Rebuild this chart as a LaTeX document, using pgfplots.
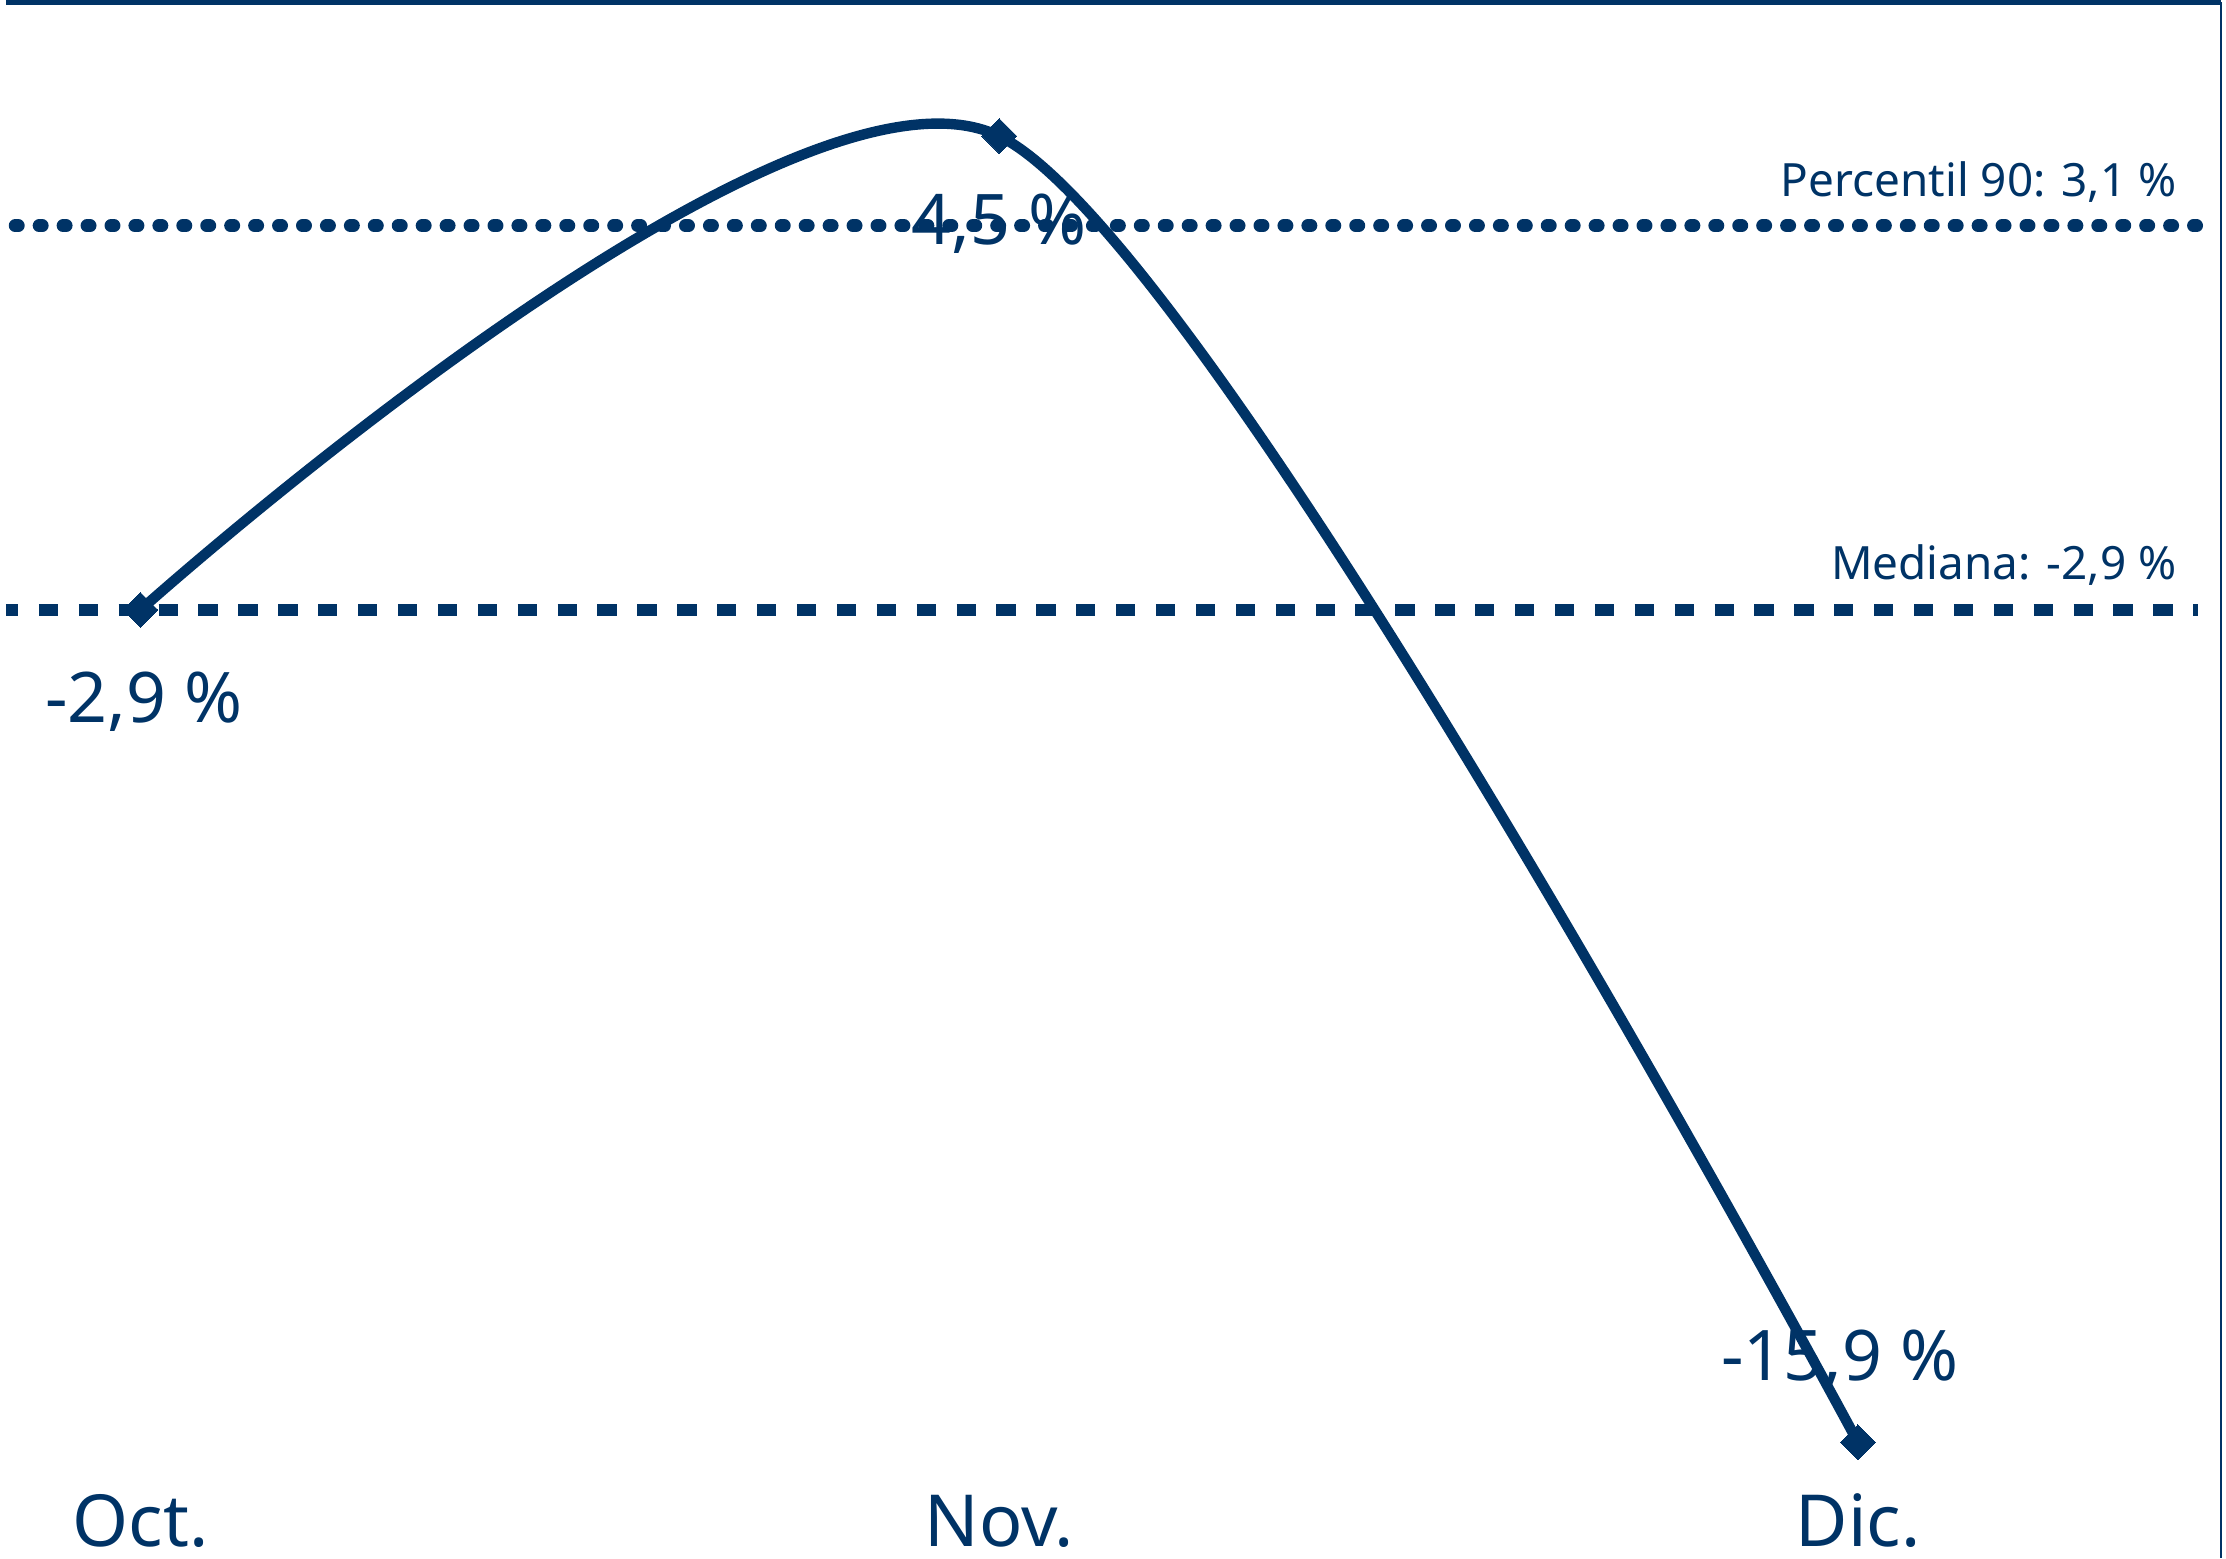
\documentclass[border=0pt]{standalone}
\usepackage{fontspec}
\setmainfont{Noto Sans}
\usepackage{pgfplots}
\pgfplotsset{compat=1.18}
\usepackage{pgfplotstable}
\definecolor{navy}{RGB}{0,51,102}

% monthly change, label text and label offsets (pt)
\pgfplotstableread{
x y lab dx dy
0 -2.9 -2,9 0.8 -28.3
1 4.5 4,5 0 -27.1
2 -15.9 -15,9 -4.5 15.5
}\ventas

\begin{document}
\begin{tikzpicture}
\begin{axis}[
  x=215.25pt, y=16.05pt,
  xmin=-0.1568, xmax=2.4228,
  ymin=-16.423, ymax=6.587,
  axis line style={draw=none},
  ytick=\empty,
  xtick={0,1,2},
  xticklabels={Oct.,Nov.,Dic.},
  major tick length=0pt,
  xticklabel style={font=\fontsize{18}{20}\selectfont, text=navy, anchor=base, inner sep=0pt, yshift=-17.75pt},
  clip=false,
]
% reference levels
\addplot[navy, line width=3.2pt, line cap=round, dash pattern=on 0.8pt off 5.2pt]
  coordinates {(-0.1459,3.1) (2.3949,3.1)};
\addplot[navy, line width=2.9pt, dash pattern=on 4.83pt off 5.17pt, dash phase=1.7pt]
  coordinates {(-0.1568,-2.9) (2.396,-2.9)};
\node[anchor=base east, inner sep=0pt, font=\fontsize{11.5}{13}\selectfont, text=navy]
  at (axis cs:2.3717,3.1) [yshift=7.3pt] {Percentil 90: 3,1 \%};
\node[anchor=base east, inner sep=0pt, font=\fontsize{11.5}{13}\selectfont, text=navy]
  at (axis cs:2.3717,-2.9) [yshift=7.6pt] {Mediana: -2,9 \%};
% value labels
\addplot[draw=none, mark=none,
  point meta=explicit symbolic,
  visualization depends on={\thisrow{dy} \as \labdy},
  visualization depends on={\thisrow{dx} \as \labdx},
  nodes near coords={\pgfplotspointmeta~\%},
  every node near coord/.append style={anchor=base, inner sep=0pt,
    font=\fontsize{17.5}{20}\selectfont, text=navy,
    yshift=\labdy pt, xshift=\labdx pt},
] table[x=x, y=y, meta=lab] {\ventas};
% series
\addplot[navy, line width=2.6pt, smooth, tension=0.45,
  mark=square*, mark size=3.1pt,
  mark options={rotate=45, line width=0pt, fill=navy, solid}]
  table[x=x, y=y] {\ventas};
% frame: top and right edges
\draw[navy, line width=1.25pt] (rel axis cs:0,1) -- (rel axis cs:1,1);
\draw[navy, line width=0.5pt] (rel axis cs:1,1) -- ([yshift=-20.5pt]rel axis cs:1,0);
\end{axis}
\path ([yshift=-20.5pt]current axis.south west) rectangle ([xshift=1.25pt,yshift=0.625pt]current axis.north east);
\end{tikzpicture}
\end{document}
